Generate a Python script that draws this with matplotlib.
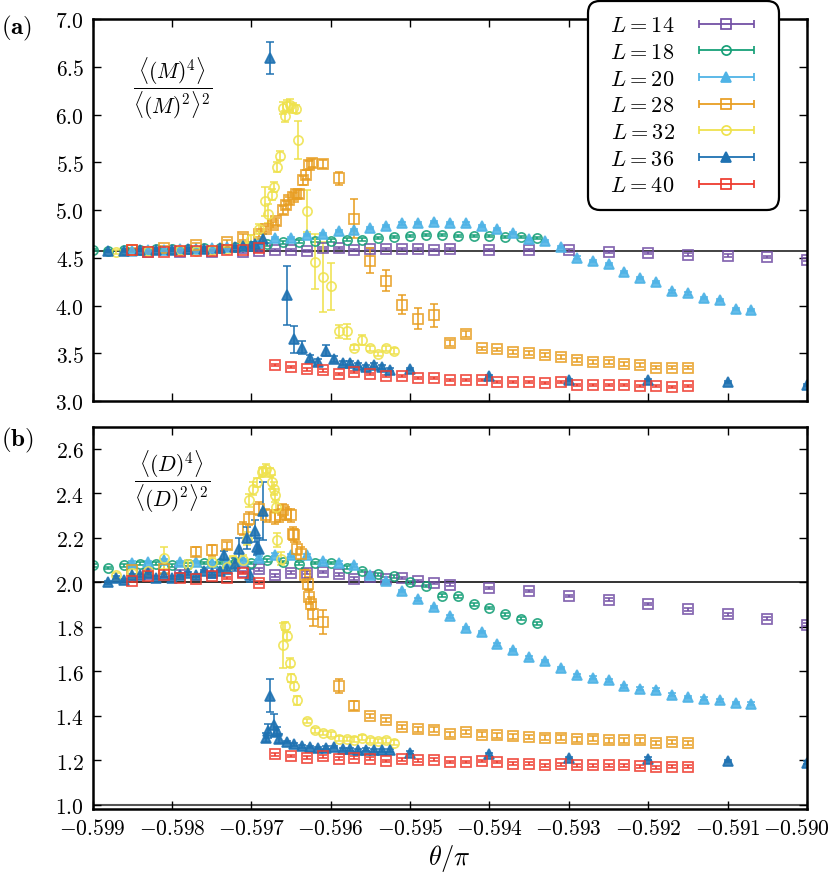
import numpy as np
import matplotlib
matplotlib.use('Agg')
import matplotlib.pyplot as plt
from matplotlib.container import ErrorbarContainer
from matplotlib.legend_handler import HandlerErrorbar
from matplotlib.transforms import ScaledTranslation

plt.rcParams['mathtext.fontset'] = 'cm'
plt.rcParams['font.family'] = ['DejaVu Serif']

# ---------------- data ----------------
labels = ['$L = 14$', '$L = 18$', '$L = 20$', '$L = 28$', '$L = 32$', '$L = 36$', '$L = 40$']
colors = ['#7350a5', '#17a078', '#4fb3e6', '#e89e22', '#efe24e', '#1f72b2', '#ee3b2e']
markers = ['s', 'o', '^', 's', 'o', '^', 's']
filled = [False, False, True, False, False, True, False]

# L = 14
L14_x = [-0.5983, -0.5979, -0.5975, -0.5971, -0.5969, -0.5967, -0.5965, -0.5963, -0.5961, -0.5959,
         -0.5957, -0.5955, -0.5953, -0.5951, -0.5949, -0.5947, -0.5945, -0.5940, -0.5935, -0.5930,
         -0.5925, -0.5920, -0.5915, -0.5910, -0.5905, -0.5900]
L14_a = [4.555, 4.555, 4.556, 4.565, 4.57, 4.58, 4.58, 4.57, 4.60, 4.60, 4.58, 4.59, 4.59, 4.59, 4.59,
         4.58, 4.59, 4.58, 4.58, 4.576, 4.562, 4.547, 4.534, 4.523, 4.505, 4.481]
L14_b = [2.035, 2.049, 2.04, 2.045, 2.058, 2.03, 2.043, 2.043, 2.046, 2.035, 2.016, 2.023, 2.016, 2.019,
         2.005, 1.996, 1.989, 1.974, 1.96, 1.938, 1.921, 1.902, 1.878, 1.855, 1.836, 1.809]

# L = 18
L18_x = [-0.5990, -0.5988, -0.5986, -0.5984, -0.5982, -0.5980, -0.5978, -0.5976, -0.5974, -0.5972,
         -0.5970, -0.5968, -0.5966, -0.5964, -0.5962, -0.5960, -0.5958, -0.5956, -0.5954, -0.5952,
         -0.5950, -0.5948, -0.5946, -0.5944, -0.5942, -0.5940, -0.5938, -0.5936, -0.5934]
L18_a = [4.58, 4.57, 4.58, 4.58, 4.59, 4.59, 4.59, 4.60, 4.60, 4.61, 4.62, 4.64, 4.66, 4.67, 4.68,
         4.68, 4.69, 4.69, 4.71, 4.72, 4.73, 4.74, 4.74, 4.73, 4.73, 4.73, 4.72, 4.72, 4.71]
L18_b = [2.075, 2.064, 2.075, 2.083, 2.083, 2.075, 2.08, 2.086, 2.086, 2.086, 2.086, 2.098, 2.09, 2.083,
         2.086, 2.086, 2.065, 2.05, 2.035, 2.026, 2.0, 1.983, 1.94, 1.936, 1.90, 1.884, 1.855, 1.836, 1.815]

# L = 20
L20_x = [-0.5985, -0.5983, -0.5981, -0.5979, -0.5977, -0.5975, -0.5973, -0.5971, -0.5969, -0.5967,
         -0.5965, -0.5963, -0.5961, -0.5959, -0.5957, -0.5955, -0.5953, -0.5951, -0.5949, -0.5947,
         -0.5945, -0.5943, -0.5941, -0.5939, -0.5937, -0.5935, -0.5933, -0.5931, -0.5929, -0.5927,
         -0.5925, -0.5923, -0.5921, -0.5919, -0.5917, -0.5915, -0.5913, -0.5911, -0.5909, -0.5907]
L20_a = [4.57, 4.58, 4.58, 4.59, 4.59, 4.60, 4.61, 4.62, 4.65, 4.71,
         4.71, 4.74, 4.75, 4.78, 4.79, 4.81, 4.835, 4.859, 4.866, 4.877,
         4.866, 4.859, 4.835, 4.80, 4.76, 4.694, 4.677, 4.614, 4.502, 4.467,
         4.432, 4.352, 4.289, 4.247, 4.148, 4.127, 4.079, 4.061, 3.963, 3.956]
L20_b = [2.088, 2.09, 2.098, 2.09, 2.09, 2.085, 2.09, 2.10, 2.11, 2.124,
         2.12, 2.12, 2.093, 2.088, 2.076, 2.03, 2.005, 1.96, 1.923, 1.888,
         1.846, 1.794, 1.776, 1.72, 1.695, 1.662, 1.646, 1.614, 1.581, 1.571,
         1.559, 1.532, 1.521, 1.517, 1.494, 1.484, 1.476, 1.469, 1.457, 1.454]

# L = 28
L28_xa = [-0.5985, -0.5981, -0.5977, -0.5973, -0.5971, -0.5969, -0.59681, -0.59673, -0.59669, -0.5966,
          -0.59656, -0.59652, -0.59648, -0.59644, -0.5964, -0.59635, -0.59631, -0.59627, -0.59623, -0.5961,
          -0.5959, -0.5957, -0.5955, -0.5953, -0.5951, -0.5949, -0.5947, -0.5945, -0.5943, -0.5941,
          -0.5939, -0.5937, -0.5935, -0.5933, -0.5931, -0.5929, -0.5927, -0.5925, -0.5923, -0.5921,
          -0.5919, -0.5917, -0.5915]
L28_a = [4.58, 4.60, 4.63, 4.66, 4.72, 4.75, 4.80, 4.84, 4.88, 5.00,
         5.05, 5.10, 5.14, 5.17, 5.17, 5.31, 5.37, 5.47, 5.49, 5.48,
         5.33, 4.91, 4.47, 4.26, 4.01, 3.86, 3.90, 3.61, 3.70, 3.55,
         3.54, 3.51, 3.50, 3.48, 3.46, 3.43, 3.41, 3.41, 3.39, 3.38,
         3.35, 3.35, 3.35]
L28_ea = [0.02, 0.02, 0.02, 0.03, 0.03, 0.03, 0.03, 0.03, 0.04, 0.04,
          0.04, 0.04, 0.04, 0.04, 0.04, 0.05, 0.05, 0.04, 0.04, 0.04,
          0.07, 0.20, 0.13, 0.11, 0.10, 0.11, 0.12, 0.03, 0.03, 0.02,
          0.02, 0.02, 0.02, 0.02, 0.02, 0.02, 0.02, 0.02, 0.02, 0.02,
          0.02, 0.02, 0.02]
L28_xb = [-0.5985, -0.5981, -0.5977, -0.5975, -0.5973, -0.5971, -0.59703, -0.5969, -0.59681, -0.5967,
          -0.59664, -0.5966, -0.59656, -0.5965, -0.59648, -0.59646, -0.59642, -0.59637, -0.59632, -0.59629,
          -0.59627, -0.59625, -0.59622, -0.5961,
          -0.5959, -0.5957, -0.5955, -0.5953, -0.5951, -0.5949, -0.5947, -0.5945, -0.5943, -0.5941,
          -0.5939, -0.5937, -0.5935, -0.5933, -0.5931, -0.5929, -0.5927, -0.5925, -0.5923, -0.5921,
          -0.5919, -0.5917, -0.5915]
L28_b = [2.053, 2.06, 2.136, 2.143, 2.165, 2.24, 2.285, 2.33, 2.30, 2.293,
         2.30, 2.323, 2.308, 2.30, 2.218, 2.21, 2.15, 2.128, 2.03, 1.993,
         1.934, 1.903, 1.858, 1.821,
         1.533, 1.444, 1.399, 1.379, 1.349, 1.338, 1.337, 1.316, 1.327, 1.315,
         1.311, 1.307, 1.304, 1.301, 1.301, 1.293, 1.297, 1.289, 1.289, 1.289,
         1.277, 1.282, 1.277]
L28_eb = [0.02, 0.02, 0.02, 0.025, 0.015, 0.03, 0.03, 0.03, 0.03, 0.03,
          0.03, 0.03, 0.03, 0.03, 0.03, 0.03, 0.03, 0.03, 0.03, 0.03,
          0.03, 0.03, 0.055, 0.055,
          0.03, 0.02, 0.01, 0.01, 0.01, 0.01, 0.01, 0.01, 0.01, 0.01,
          0.01, 0.01, 0.01, 0.01, 0.01, 0.01, 0.01, 0.01, 0.01, 0.01,
          0.01, 0.01, 0.01]

# L = 32
L32_xa = [-0.5987, -0.5983, -0.5979, -0.5977, -0.5975, -0.5973, -0.5971, -0.5970, -0.5969, -0.59683,
          -0.59679, -0.59674, -0.59672, -0.59667, -0.59664, -0.5966, -0.59658, -0.59655, -0.59651, -0.59648,
          -0.59644, -0.59641, -0.5963, -0.5962, -0.5961, -0.5960, -0.5959, -0.5958, -0.5957, -0.5956,
          -0.5955, -0.5954, -0.5953, -0.5952]
L32_a = [4.56, 4.57, 4.58, 4.57, 4.58, 4.59, 4.62, 4.70, 4.80, 5.09,
         4.96, 5.16, 5.24, 5.45, 5.57, 6.07, 5.98, 6.09, 6.10, 6.07,
         6.06, 5.73, 4.99, 4.46, 4.30, 4.20, 3.73, 3.73, 3.56, 3.64,
         3.55, 3.49, 3.55, 3.52]
L32_ea = [0.02, 0.02, 0.02, 0.02, 0.02, 0.02, 0.03, 0.04, 0.05, 0.15,
          0.10, 0.06, 0.05, 0.05, 0.05, 0.06, 0.06, 0.06, 0.06, 0.05,
          0.04, 0.20, 0.22, 0.29, 0.37, 0.25, 0.07, 0.08, 0.03, 0.05,
          0.03, 0.02, 0.03, 0.03]
L32_xb = [-0.5987, -0.5985, -0.5983, -0.5981, -0.5978, -0.5975, -0.5973, -0.59723, -0.5971,
          -0.59706, -0.59703, -0.59698, -0.59693, -0.59687, -0.59685, -0.59681, -0.59676, -0.59674, -0.59671,
          -0.5967, -0.59669, -0.59667, -0.59662,
          -0.5966, -0.59658, -0.59655, -0.59651, -0.5965, -0.59646, -0.59642,
          -0.5963, -0.5962, -0.5961, -0.5960, -0.5959, -0.5958, -0.5957, -0.5956, -0.5955, -0.5954,
          -0.5953, -0.5952]
L32_b = [2.03, 2.04, 2.05, 2.11, 2.08, 2.09, 2.07, 2.098, 2.10,
         2.195, 2.368, 2.42, 2.45, 2.495, 2.50, 2.51, 2.495, 2.45, 2.42,
         2.39, 2.34, 2.19, 2.106,
         1.716, 1.803, 1.758, 1.638, 1.569, 1.533, 1.469,
         1.376, 1.334, 1.322, 1.316, 1.297, 1.294, 1.292, 1.301, 1.289, 1.285,
         1.289, 1.279]
L32_eb = [0.01, 0.02, 0.02, 0.05, 0.02, 0.02, 0.02, 0.02, 0.02,
          0.03, 0.03, 0.03, 0.02, 0.02, 0.02, 0.02, 0.02, 0.03, 0.03,
          0.03, 0.03, 0.03, 0.03,
          0.10, 0.02, 0.02, 0.02, 0.02, 0.02, 0.02,
          0.01, 0.01, 0.01, 0.01, 0.01, 0.01, 0.01, 0.01, 0.01, 0.01,
          0.01, 0.01]

# L = 36
L36_xa = [-0.5988, -0.5986, -0.5984, -0.5982, -0.5980, -0.5978, -0.5976, -0.5974, -0.5972, -0.5971,
          -0.5970, -0.59695, -0.59685, -0.59676, -0.59655, -0.59646, -0.59636, -0.59626, -0.59616, -0.59606,
          -0.59596, -0.59585, -0.59576, -0.59565, -0.59556, -0.59546, -0.59535, -0.59525,
          -0.595, -0.594, -0.593, -0.592, -0.591, -0.590]
L36_a = [4.57, 4.57, 4.58, 4.58, 4.58, 4.59, 4.59, 4.60, 4.61, 4.62,
         4.62, 4.64, 4.70, 6.59, 4.106, 3.644, 3.557, 3.449, 3.406, 3.528,
         3.441, 3.399, 3.399, 3.381, 3.36, 3.38, 3.354, 3.329,
         3.336, 3.266, 3.224, 3.217, 3.196, 3.171]
L36_ea = [0.01, 0.01, 0.01, 0.01, 0.01, 0.01, 0.01, 0.01, 0.01, 0.01,
          0.01, 0.02, 0.05, 0.17, 0.31, 0.145, 0.07, 0.03, 0.03, 0.06,
          0.03, 0.02, 0.02, 0.02, 0.02, 0.02, 0.02, 0.02,
          0.01, 0.01, 0.01, 0.01, 0.01, 0.01]
L36_xb = [-0.5988, -0.5987, -0.5986, -0.5985, -0.5984, -0.5983, -0.5982, -0.5981, -0.5980, -0.5979,
          -0.5978, -0.5977, -0.5976, -0.5975, -0.5974, -0.59734, -0.5973, -0.5972, -0.59716, -0.59706,
          -0.59701, -0.59695, -0.59693, -0.5969, -0.59685, -0.59682, -0.59679, -0.59676, -0.59671, -0.59668,
          -0.59665, -0.59655, -0.59646, -0.59636, -0.59626, -0.59616, -0.59606, -0.59596, -0.59585, -0.59576,
          -0.59565, -0.59556, -0.59546, -0.59535, -0.59525, -0.595, -0.594, -0.593, -0.592, -0.591,
          -0.590]
L36_b = [2.00, 2.02, 2.01, 2.03, 2.03, 2.04, 2.02, 2.03, 2.02, 2.03,
         2.04, 2.03, 2.05, 2.04, 2.05, 2.12, 2.06, 2.08, 2.15, 2.20,
         2.03, 2.23, 2.16, 2.15, 2.32, 1.30, 1.33, 1.49, 1.356, 1.33,
         1.297, 1.282, 1.271, 1.262, 1.259, 1.255, 1.256, 1.259, 1.249, 1.249,
         1.244, 1.247, 1.244, 1.244, 1.244, 1.234, 1.226, 1.21, 1.207, 1.196,
         1.189]
L36_eb = [0.006, 0.006, 0.006, 0.006, 0.006, 0.006, 0.006, 0.006, 0.006, 0.006,
          0.006, 0.006, 0.006, 0.006, 0.006, 0.02, 0.01, 0.03, 0.05, 0.05,
          0.03, 0.05, 0.04, 0.05, 0.13, 0.02, 0.03, 0.075, 0.05, 0.02,
          0.02, 0.006, 0.006, 0.006, 0.006, 0.006, 0.006, 0.006, 0.006, 0.006,
          0.006, 0.006, 0.006, 0.006, 0.006, 0.006, 0.006, 0.006, 0.006, 0.006,
          0.006]

# L = 40
L40_x = [-0.5985, -0.5983, -0.5981, -0.5979, -0.5977, -0.5975, -0.5973, -0.5971, -0.5969,
         -0.5967, -0.5965, -0.5963, -0.5961, -0.5959, -0.5957, -0.5955, -0.5953, -0.5951, -0.5949,
         -0.5947, -0.5945, -0.5943, -0.5941, -0.5939, -0.5937, -0.5935, -0.5933, -0.5931, -0.5929,
         -0.5927, -0.5925, -0.5923, -0.5921, -0.5919, -0.5917, -0.5915]
L40_a = [4.58, 4.56, 4.56, 4.57, 4.57, 4.57, 4.58, 4.58, 4.60,
         3.378, 3.354, 3.33, 3.32, 3.28, 3.30, 3.28, 3.26, 3.26, 3.24,
         3.24, 3.22, 3.22, 3.22, 3.20, 3.20, 3.20, 3.19, 3.20, 3.17,
         3.17, 3.17, 3.17, 3.16, 3.16, 3.15, 3.16]
L40_b = [2.005, 2.028, 2.03, 2.02, 2.016, 2.028, 2.019, 2.041, 1.998,
         1.226, 1.219, 1.211, 1.217, 1.207, 1.211, 1.207, 1.196, 1.204, 1.199,
         1.202, 1.192, 1.192, 1.196, 1.192, 1.184, 1.184, 1.177, 1.181, 1.177,
         1.177, 1.177, 1.177, 1.172, 1.168, 1.170, 1.170]

ref_line_a = 4.57
ref_line_b = 2.0
xticks = [-0.599, -0.598, -0.597, -0.596, -0.595, -0.594, -0.593, -0.592, -0.591, -0.590]
yticks_a = [3.0, 3.5, 4.0, 4.5, 5.0, 5.5, 6.0, 6.5, 7.0]
yticks_b = [1.0, 1.2, 1.4, 1.6, 1.8, 2.0, 2.2, 2.4, 2.6]

panel_a = [(L14_x, L14_a, 0.012), (L18_x, L18_a, 0.012), (L20_x, L20_a, 0.012),
           (L28_xa, L28_a, L28_ea), (L32_xa, L32_a, L32_ea), (L36_xa, L36_a, L36_ea),
           (L40_x, L40_a, 0.012)]
panel_b = [(L14_x, L14_b, 0.006), (L18_x, L18_b, 0.006), (L20_x, L20_b, 0.006),
           (L28_xb, L28_b, L28_eb), (L32_xb, L32_b, L32_eb), (L36_xb, L36_b, L36_eb),
           (L40_x, L40_b, 0.006)]

# ---------------- figure ----------------
fig = plt.figure(figsize=(8.31, 8.78), dpi=100)
ax_a = fig.add_axes([92.5 / 831, 1 - 402 / 878, 714.5 / 831, 382 / 878])
ax_b = fig.add_axes([92.5 / 831, 1 - 810 / 878, 714.5 / 831, 382.5 / 878])

msizes = {'s': 7.2, 'o': 6.6, '^': 7.6}


def style(i):
    c = colors[i]
    m = markers[i]
    return dict(fmt=m, color=c, mec=c, mfc=c if filled[i] else 'none',
                ms=msizes[m], mew=1.25, elinewidth=1.3, capsize=2.6, capthick=1.3,
                alpha=0.88, linestyle='none')


for ax, data in ((ax_a, panel_a), (ax_b, panel_b)):
    for i, (x, y, e) in enumerate(data):
        ax.errorbar(x, y, yerr=e, **style(i))

ax_a.axhline(ref_line_a, color='#222222', lw=1.2, zorder=1)
ax_b.axhline(ref_line_b, color='#111111', lw=1.2, zorder=1)
ax_b.axhline(1.0, color='#555555', lw=1.5, zorder=1)

for ax in (ax_a, ax_b):
    ax.set_xlim(-0.599, -0.590)
    ax.set_xticks(xticks)
    ax.tick_params(direction='in', top=True, right=True, length=6, width=1.0,
                   labelsize=15.5, pad=6)
    for s in ax.spines.values():
        s.set_linewidth(1.8)

ax_a.set_ylim(3.0, 7.0)
ax_a.set_yticks(yticks_a)
ax_a.set_yticklabels(['$%.1f$' % v for v in yticks_a])
ax_a.set_xticklabels([])

ax_b.set_ylim(0.98, 2.7)
ax_b.set_yticks(yticks_b)
ax_b.set_yticklabels(['$%.1f$' % v for v in yticks_b])
ax_b.set_xticklabels(['$%.3f$' % v for v in xticks])
ax_b.set_xlabel(r'$\theta/\pi$', fontsize=19, labelpad=2)

# keep the last tick label inside the figure
last = ax_b.get_xticklabels()[-1]
last.set_transform(last.get_transform() + ScaledTranslation(-7.5 / 72, 0, fig.dpi_scale_trans))

ax_a.text(0.112, 0.82, r'$\dfrac{\langle (M)^4\rangle}{\langle (M)^2\rangle^2}$',
          transform=ax_a.transAxes, fontsize=15.5, ha='center', va='center')
ax_b.text(0.112, 0.857, r'$\dfrac{\langle (D)^4\rangle}{\langle (D)^2\rangle^2}$',
          transform=ax_b.transAxes, fontsize=15.5, ha='center', va='center')

fig.text(1 / 831, 1 - 28 / 878, r'$\mathbf{(a)}$', fontsize=18, ha='left', va='center')
fig.text(1 / 831, 1 - 440 / 878, r'$\mathbf{(b)}$', fontsize=18, ha='left', va='center')

# legend proxies (horizontal error bars as in the reference)
handles = []
for i in range(7):
    st = style(i)
    st['alpha'] = 1.0
    h = ax_a.errorbar([-1.0], [-1.0], xerr=[1.0], **st)
    handles.append(h)

leg_labels = [r'$\enspace' + s[1:] for s in labels]
leg = ax_a.legend(handles, leg_labels, loc='upper right',
                  bbox_to_anchor=(779 / 831, 1 - 2 / 878), bbox_transform=fig.transFigure,
                  markerfirst=False, numpoints=1,
                  handler_map={ErrorbarContainer: HandlerErrorbar(xerr_size=1.24)},
                  handlelength=3.56, handletextpad=0.54, labelspacing=0.21,
                  borderpad=0.6, borderaxespad=0, fontsize=16,
                  frameon=True, fancybox=True, framealpha=1, edgecolor='black')
leg.get_frame().set_linewidth(1.6)
leg.get_frame().set_boxstyle('round', pad=0, rounding_size=0.55)

fig.savefig('out.png', dpi=100)
